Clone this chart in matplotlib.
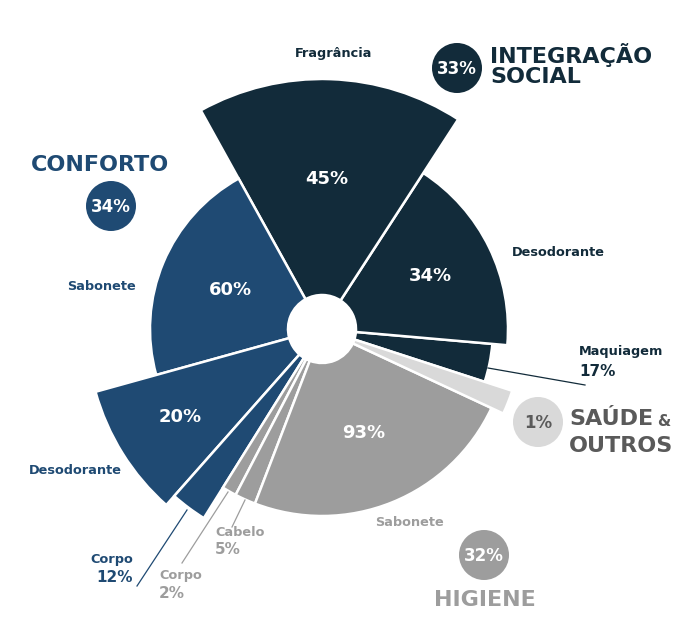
import numpy as np
import matplotlib
matplotlib.use('Agg')
import matplotlib.pyplot as plt
from matplotlib.patches import Wedge, Circle

plt.rcParams['font.family'] = ['DejaVu Sans']

# dados
segmentos = ['Maquiagem', 'Desodorante', 'Fragrância', 'Sabonete', 'Desodorante',
             'Corpo', 'Corpo', 'Cabelo', 'Sabonete', 'Saúde & outros']
grupo = ['int', 'int', 'int', 'con', 'con', 'con', 'hig', 'hig', 'hig', 'sau']
percentual = [17, 34, 45, 60, 20, 12, 2, 5, 93, 1]
# abertura (graus) e raio de cada fatia
abertura = [13, 62, 62, 76.5, 33, 9.5, 4.5, 6.5, 86, 7]
raio = [171, 186, 250, 172, 235, 223, 187, 187, 187, 200]

grupos = ['int', 'con', 'hig', 'sau']
grupo_nome = ['INTEGRAÇÃO\nSOCIAL', 'CONFORTO', 'HIGIENE', 'SAÚDE']
grupo_pct = [33, 34, 32, 1]

cores = {'int': '#122b3a', 'con': '#1f4a73', 'hig': '#9d9d9d', 'sau': '#d9d9d9'}

cx, cy = 322, 329
furo = 34
inicio = -18

fig = plt.figure(figsize=(6.94, 6.31), dpi=100)
ax = fig.add_axes([0, 0, 1, 1])
ax.set_xlim(0, 694)
ax.set_ylim(631, 0)
ax.axis('off')

def ponto(ang, r):
    a = np.radians(ang)
    return cx + r * np.cos(a), cy - r * np.sin(a)

ang = inicio
meios = []
for i in range(len(segmentos)):
    a1, a2 = ang, ang + abertura[i]
    # eixo y invertido: angulos trocam de sinal
    w = Wedge((cx, cy), raio[i], -a2, -a1, width=raio[i] - furo,
              facecolor=cores[grupo[i]], edgecolor='white', linewidth=1.8)
    ax.add_patch(w)
    meios.append((a1 + a2) / 2)
    ang = a2
ax.add_patch(Circle((cx, cy), furo, facecolor='white', edgecolor='none', zorder=3))

# percentuais dentro das fatias
frac = {1: 0.65, 2: 0.6, 3: 0.58, 4: 0.71, 8: 0.6}
for i, f in frac.items():
    x, y = ponto(meios[i], raio[i] * f)
    ax.text(x, y, f'{percentual[i]}%', color='white', fontsize=13, fontweight='bold',
            ha='center', va='center')

dark, blue, grey = cores['int'], cores['con'], cores['hig']
lab = dict(fontsize=9.3, fontweight='bold', va='center')
pct = dict(fontsize=11, fontweight='bold', va='center')

# rótulos das fatias
ax.text(334, 53, 'Fragrância', color=dark, ha='center', **lab)
ax.text(558, 252, 'Desodorante', color=dark, ha='center', **lab)
ax.text(579, 352, 'Maquiagem', color=dark, ha='left', **lab)
ax.text(579, 372, '17%', color=dark, ha='left', **pct)
ax.plot([488, 585], [368, 385], color=dark, lw=0.9)

ax.text(102, 287, 'Sabonete', color=blue, ha='center', **lab)
ax.text(75, 470, 'Desodorante', color=blue, ha='center', **lab)
ax.text(133, 560, 'Corpo', color=blue, ha='right', **lab)
ax.text(133, 578, '12%', color=blue, ha='right', **pct)
ax.plot([137, 187], [586, 510], color=blue, lw=0.9)

ax.text(159, 576, 'Corpo', color=grey, ha='left', **lab)
ax.text(159, 594, '2%', color=grey, ha='left', **pct)
ax.plot([182, 228], [563, 492], color=grey, lw=0.9)
ax.text(215, 533, 'Cabelo', color=grey, ha='left', **lab)
ax.text(215, 550, '5%', color=grey, ha='left', **pct)
ax.plot([232, 245], [527, 500], color=grey, lw=0.9)
ax.text(410, 522, 'Sabonete', color=grey, ha='center', **lab)

# grupos
circ = [(457, 68), (111, 206), (484, 555), (538, 422)]
txtcor = ['white', 'white', 'white', '#5a5a5a']
for k, g in enumerate(grupos):
    x, y = circ[k]
    ax.add_patch(Circle((x, y), 25, facecolor=cores[g], edgecolor='none'))
    ax.text(x, y + 1, f'{grupo_pct[k]}%', color=txtcor[k], fontsize=12, fontweight='bold',
            ha='center', va='center')

tit = dict(fontsize=16, fontweight='bold', va='center')
ax.text(490, 65, grupo_nome[0], color=dark, ha='left', linespacing=1.0, **tit)
ax.text(100, 165, grupo_nome[1], color=blue, ha='center', **tit)
ax.text(485, 600, grupo_nome[2], color=grey, ha='center', **tit)
ax.text(569, 419, grupo_nome[3], color='#5a5a5a', ha='left', **tit)
ax.text(657, 421, '&', color='#5a5a5a', fontsize=11, fontweight='bold', ha='left', va='center')
ax.text(569, 446, 'OUTROS', color='#5a5a5a', ha='left', **tit)

fig.savefig('out.png', dpi=100, facecolor='white')
